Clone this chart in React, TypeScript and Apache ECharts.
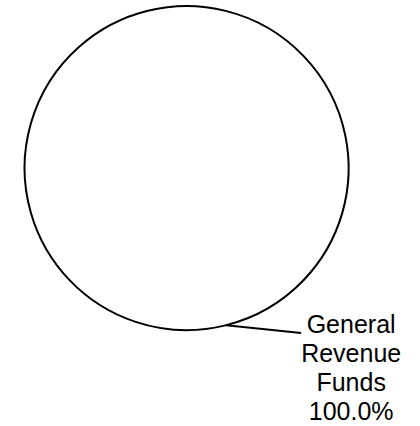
import React, { useEffect, useRef } from "react";
import * as echarts from "echarts";

const categories = ["General Revenue Funds"];
const values = [100];

export default function App() {
  const ref = useRef<HTMLDivElement>(null);
  useEffect(() => {
    document.body.style.margin = "0";
    const chart = echarts.init(ref.current!, undefined, { renderer: "svg" });
    chart.setOption({
      animation: false,
      backgroundColor: "#ffffff",
      series: [
        {
          type: "pie",
          center: [187, 168],
          radius: 162,
          startAngle: 104,
          clockwise: true,
          avoidLabelOverlap: false,
          data: categories.map((name, i) => ({ name, value: values[i] })),
          itemStyle: { color: "#ffffff", borderColor: "#000000", borderWidth: 2 },
          emphasis: { disabled: true },
          label: {
            show: true,
            position: "outside",
            distanceToLabelLine: 0,
            padding: [70, 0, 0, 0],
            formatter: (p: any) =>
              p.name
                .split(" ")
                .concat([p.percent.toFixed(1) + "%"])
                .map((s: string) => "{a|" + s + "}")
                .join("\n"),
            rich: {
              a: {
                align: "center",
                fontFamily: "Liberation Sans, Arial, sans-serif",
                fontSize: 25,
                lineHeight: 29,
                color: "#000000",
              },
            },
          },
          labelLine: {
            show: true,
            length: 8,
            length2: 73,
            lineStyle: { color: "#000000", width: 2 },
          },
          labelLayout: (params: any) => {
            const pts = params.labelLinePoints;
            if (!pts || pts.length < 3) return {};
            return { labelLinePoints: [pts[0], pts[2]] };
          },
        },
      ],
    });
    return () => chart.dispose();
  }, []);
  return <div ref={ref} style={{ width: 420, height: 426 }} />;
}
